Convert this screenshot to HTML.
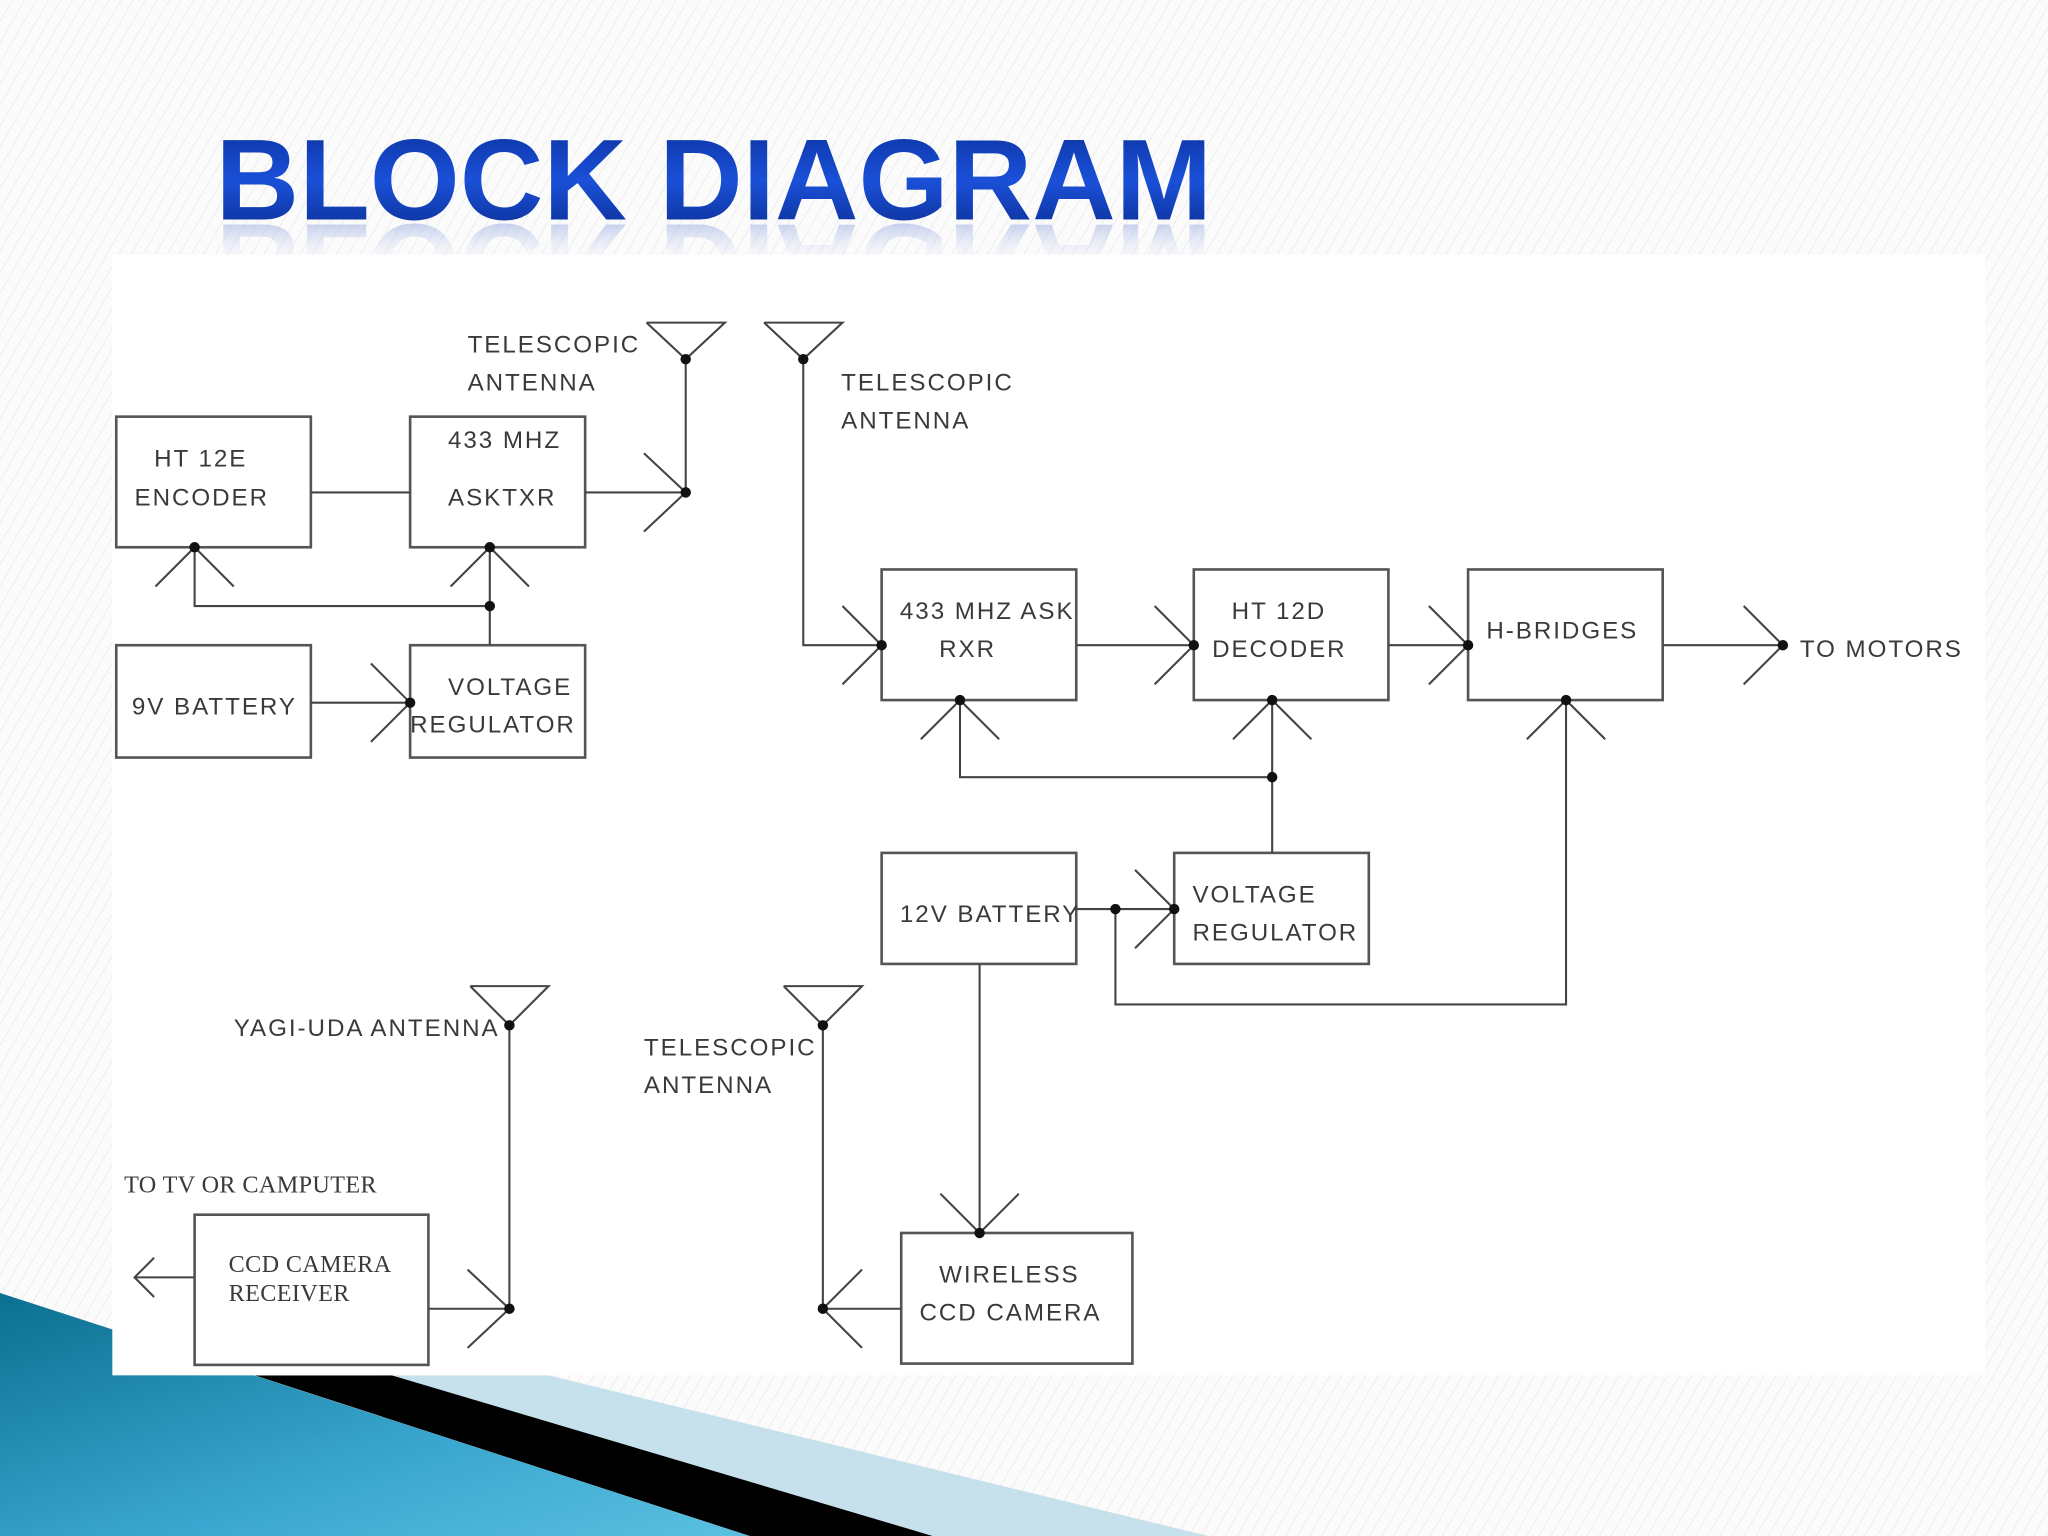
<!DOCTYPE html>
<html><head><meta charset="utf-8">
<style>
html,body{margin:0;padding:0;width:2048px;height:1536px;overflow:hidden;background:#fbfbfb;}
svg{display:block;}
.t{font-family:"Liberation Sans",sans-serif;font-size:18.5px;fill:#3a3a3a;letter-spacing:1.5px;}
.s{font-family:"Liberation Serif",serif;font-size:18.5px;fill:#3a3a3a;letter-spacing:0.3px;}
</style></head><body>
<svg width="2048" height="1536" viewBox="0 0 1568 1176" xmlns="http://www.w3.org/2000/svg">
<defs>
<pattern id="st" width="8" height="8" patternUnits="userSpaceOnUse" patternTransform="rotate(30)">
<rect width="8" height="8" fill="#fbfbfb"/><line x1="0" y1="0" x2="0" y2="8" stroke="#e6e6e6" stroke-width="1"/>
</pattern>
<linearGradient id="tg" x1="0" y1="0" x2="0" y2="1">
<stop offset="0" stop-color="#0a2f9a"/><stop offset="0.5" stop-color="#1a50d8"/><stop offset="1" stop-color="#0a2a8a"/>
</linearGradient>
<linearGradient id="rg" x1="0" y1="1" x2="0" y2="0">
<stop offset="0" stop-color="#5a78d0" stop-opacity="0.75"/><stop offset="0.55" stop-color="#ffffff" stop-opacity="0"/>
</linearGradient>
<linearGradient id="bg" x1="0" y1="0" x2="1" y2="1">
<stop offset="0" stop-color="#0b6f90"/><stop offset="0.6" stop-color="#3aa6cf"/><stop offset="1" stop-color="#5bc0e0"/>
</linearGradient>
</defs>
<rect width="1568" height="1176" fill="url(#st)"/>
<polygon points="420,1053 925,1176 714,1176 290,1053" fill="#b9dbe8" opacity="0.8"/>
<polygon points="195,1053 300,1053 714,1176 574,1176" fill="#000"/>
<polygon points="0,990 574,1176 0,1176" fill="url(#bg)"/>
<text x="165" y="168" font-family="Liberation Sans,sans-serif" font-weight="bold" font-size="88" fill="url(#tg)" textLength="763" lengthAdjust="spacingAndGlyphs">BLOCK DIAGRAM</text>
<g transform="translate(0,340) scale(1,-1)">
<text x="165" y="168" font-family="Liberation Sans,sans-serif" font-weight="bold" font-size="88" fill="url(#rg)" textLength="763" lengthAdjust="spacingAndGlyphs">BLOCK DIAGRAM</text>
</g>
<rect x="86" y="195" width="1434" height="858" fill="#fff"/>
<g stroke="#555" stroke-width="2" fill="none">
<rect x="89" y="319" width="149" height="100"/>
<rect x="314" y="319" width="134" height="100"/>
<rect x="89" y="494" width="149" height="86"/>
<rect x="314" y="494" width="134" height="86"/>
<rect x="675" y="436" width="149" height="100"/>
<rect x="914" y="436" width="149" height="100"/>
<rect x="1124" y="436" width="149" height="100"/>
<rect x="675" y="653" width="149" height="85"/>
<rect x="899" y="653" width="149" height="85"/>
<rect x="149" y="930" width="179" height="115"/>
<rect x="690" y="944" width="177" height="100"/>
</g>
<g stroke="#444" stroke-width="1.6" fill="none">
<line x1="238" y1="377" x2="314" y2="377"/>
<line x1="448" y1="377" x2="525" y2="377"/>
<polyline points="493,347 525,377 493,407"/>
<line x1="525" y1="377" x2="525" y2="275"/>
<polyline points="495,247 555,247 525,275 495,247"/>
<polyline points="149,419 149,464 375,464"/>
<line x1="375" y1="419" x2="375" y2="494"/>
<polyline points="119,449 149,419 179,449"/>
<polyline points="345,449 375,419 405,449"/>
<line x1="238" y1="538" x2="314" y2="538"/>
<polyline points="284,508 314,538 284,568"/>
<polyline points="585,247 645,247 615,275 585,247"/>
<polyline points="615,275 615,494 675,494"/>
<polyline points="645,464 675,494 645,524"/>
<line x1="824" y1="494" x2="914" y2="494"/>
<polyline points="884,464 914,494 884,524"/>
<line x1="1063" y1="494" x2="1124" y2="494"/>
<polyline points="1094,464 1124,494 1094,524"/>
<line x1="1273" y1="494" x2="1365" y2="494"/>
<polyline points="1335,464 1365,494 1335,524"/>
<polyline points="735,536 735,595 974,595"/>
<line x1="974" y1="536" x2="974" y2="653"/>
<polyline points="705,566 735,536 765,566"/>
<polyline points="944,566 974,536 1004,566"/>
<line x1="824" y1="696" x2="899" y2="696"/>
<polyline points="869,666 899,696 869,726"/>
<polyline points="854,696 854,769 1199,769 1199,536"/>
<polyline points="1169,566 1199,536 1229,566"/>
<line x1="750" y1="738" x2="750" y2="944"/>
<polyline points="720,914 750,944 780,914"/>
<polyline points="600,755 660,755 630,785 600,755"/>
<polyline points="630,785 630,1002 690,1002"/>
<polyline points="660,972 630,1002 660,1032"/>
<polyline points="360,755 420,755 390,785 360,755"/>
<polyline points="390,785 390,1002 328,1002"/>
<polyline points="358,972 390,1002 358,1032"/>
<line x1="149" y1="978" x2="103" y2="978"/>
<polyline points="118,963 103,978 118,993"/>
</g>
<g fill="#111">
<circle cx="525" cy="377" r="4"/><circle cx="525" cy="275" r="4"/>
<circle cx="149" cy="419" r="4"/><circle cx="375" cy="419" r="4"/><circle cx="375" cy="464" r="4"/>
<circle cx="314" cy="538" r="4"/>
<circle cx="615" cy="275" r="4"/><circle cx="675" cy="494" r="4"/><circle cx="914" cy="494" r="4"/>
<circle cx="1124" cy="494" r="4"/><circle cx="1365" cy="494" r="4"/>
<circle cx="735" cy="536" r="4"/><circle cx="974" cy="536" r="4"/><circle cx="974" cy="595" r="4"/>
<circle cx="1199" cy="536" r="4"/><circle cx="854" cy="696" r="4"/><circle cx="899" cy="696" r="4"/>
<circle cx="750" cy="944" r="4"/><circle cx="630" cy="785" r="4"/><circle cx="630" cy="1002" r="4"/>
<circle cx="390" cy="785" r="4"/><circle cx="390" cy="1002" r="4"/>
</g>
<g class="t">
<text x="358" y="270">TELESCOPIC</text><text x="358" y="299">ANTENNA</text>
<text x="644" y="299">TELESCOPIC</text><text x="644" y="328">ANTENNA</text>
<text x="118" y="357">HT 12E</text><text x="103" y="387">ENCODER</text>
<text x="343" y="343">433 MHZ</text><text x="343" y="387">ASKTXR</text>
<text x="101" y="547">9V BATTERY</text>
<text x="343" y="532">VOLTAGE</text><text x="314" y="561">REGULATOR</text>
<text x="689" y="474">433 MHZ ASK</text><text x="719" y="503">RXR</text>
<text x="943" y="474">HT 12D</text><text x="928" y="503">DECODER</text>
<text x="1138" y="489">H-BRIDGES</text>
<text x="1378" y="503">TO MOTORS</text>
<text x="689" y="706">12V BATTERY</text>
<text x="913" y="691">VOLTAGE</text><text x="913" y="720">REGULATOR</text>
<text x="179" y="793">YAGI-UDA ANTENNA</text>
<text x="493" y="808">TELESCOPIC</text><text x="493" y="837">ANTENNA</text>
<text x="719" y="982">WIRELESS</text><text x="704" y="1011">CCD CAMERA</text>
</g>
<g class="s">
<text x="95" y="913">TO TV OR CAMPUTER</text>
<text x="175" y="974">CCD CAMERA</text><text x="175" y="996">RECEIVER</text>
</g>
</svg>
</body></html>
